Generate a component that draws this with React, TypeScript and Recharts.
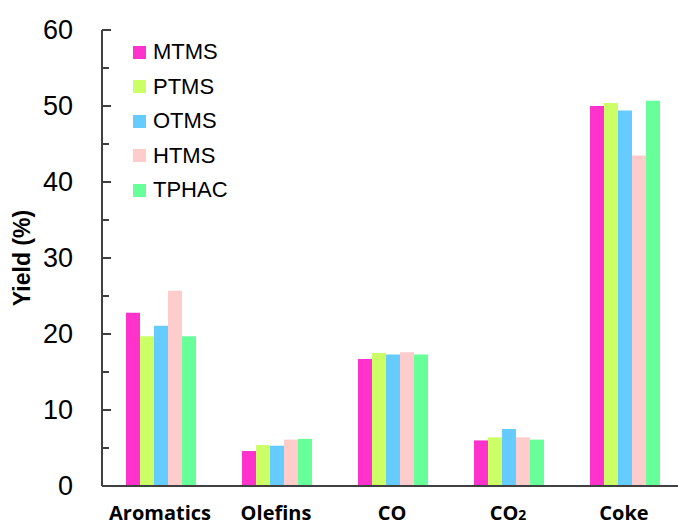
import React from 'react';
import { BarChart, Bar, XAxis, YAxis } from 'recharts';

const categories = ['Aromatics', 'Olefins', 'CO', 'CO₂', 'Coke'];
const mtms = [22.8, 4.6, 16.7, 6.0, 50.0];
const ptms = [19.7, 5.4, 17.5, 6.4, 50.4];
const otms = [21.1, 5.3, 17.3, 7.5, 49.4];
const htms = [25.7, 6.1, 17.6, 6.4, 43.5];
const tphac = [19.7, 6.2, 17.3, 6.1, 50.7];
const yTicks = [0, 5, 10, 15, 20, 25, 30, 35, 40, 45, 50, 55, 60];

const SERIES = [
    { key: 'MTMS', values: mtms, color: '#FF33CC' },
    { key: 'PTMS', values: ptms, color: '#CCFF66' },
    { key: 'OTMS', values: otms, color: '#66CCFF' },
    { key: 'HTMS', values: htms, color: '#FFCCCC' },
    { key: 'TPHAC', values: tphac, color: '#66FF99' },
];

const data = categories.map((name, i) => {
    const row: Record<string, any> = { name };
    SERIES.forEach(s => { row[s.key] = s.values[i]; });
    return row;
});

const AXIS = '#404040';
const NUM_FONT = '"Liberation Sans", Arial, sans-serif';
const BOLD_FONT = '"Open Sans", "Noto Sans", sans-serif';
const Y_TICK_MARGIN = 29;

const YTick = (props: any) => {
    const { x, y, payload } = props;
    const major = payload.value % 10 === 0;
    const ax = x + Y_TICK_MARGIN;
    return (
        <g>
            <line x1={ax} x2={ax + (major ? 9 : 7)} y1={y} y2={y} stroke={AXIS} strokeWidth={2} />
            {major && (
                <text x={x} y={y} textAnchor="end" dominantBaseline="central"
                    fontFamily={NUM_FONT} fontSize={27} fill="#000">
                    {payload.value}
                </text>
            )}
        </g>
    );
};

const XTick = (props: any) => {
    const { x, y, payload } = props;
    const label: string = payload.value;
    const sub = label.indexOf('₂');
    return (
        <text x={x} y={y} dy={27} textAnchor="middle" fontFamily={BOLD_FONT}
            fontWeight={700} fontSize={20} fill="#000">
            {sub < 0 ? label : (
                <>
                    <tspan>{label.slice(0, sub)}</tspan>
                    <tspan fontSize={14}>2</tspan>
                </>
            )}
        </text>
    );
};

const LegendBox = () => (
    <div style={{ position: 'absolute', left: 133, top: 35 }}>
        {SERIES.map(s => (
            <div key={s.key} style={{ display: 'flex', alignItems: 'center', height: 34.5 }}>
                <div style={{ width: 13, height: 13, background: s.color, marginRight: 7 }} />
                <span style={{ fontFamily: NUM_FONT, fontSize: 22, color: '#000' }}>{s.key}</span>
            </div>
        ))}
    </div>
);

export default function App() {
    return (
        <div style={{ position: 'absolute', left: 0, top: 0, width: 678, height: 526, overflow: 'hidden', background: '#fff' }}>
            <BarChart width={682} height={526} data={data}
                margin={{ top: 30, right: 0, bottom: 0, left: 0 }}
                barCategoryGap={24} barGap={0}>
                <XAxis dataKey="name" height={40} stroke={AXIS} strokeWidth={2}
                    tickLine={false} tickSize={0} tickMargin={7} tick={<XTick />} />
                <YAxis width={102} domain={[0, 60]} ticks={yTicks} interval={0}
                    stroke={AXIS} strokeWidth={2} tickLine={false} tickSize={0}
                    tickMargin={Y_TICK_MARGIN} tick={<YTick />}
                    label={{ value: 'Yield (%)', angle: -90, position: 'insideLeft', offset: 22,
                        style: { fontFamily: NUM_FONT, fontWeight: 700, fontSize: 23, fill: '#000', textAnchor: 'middle' } }} />
                {SERIES.map(s => (
                    <Bar key={s.key} dataKey={s.key} fill={s.color} isAnimationActive={false} />
                ))}
            </BarChart>
            <LegendBox />
        </div>
    );
}
